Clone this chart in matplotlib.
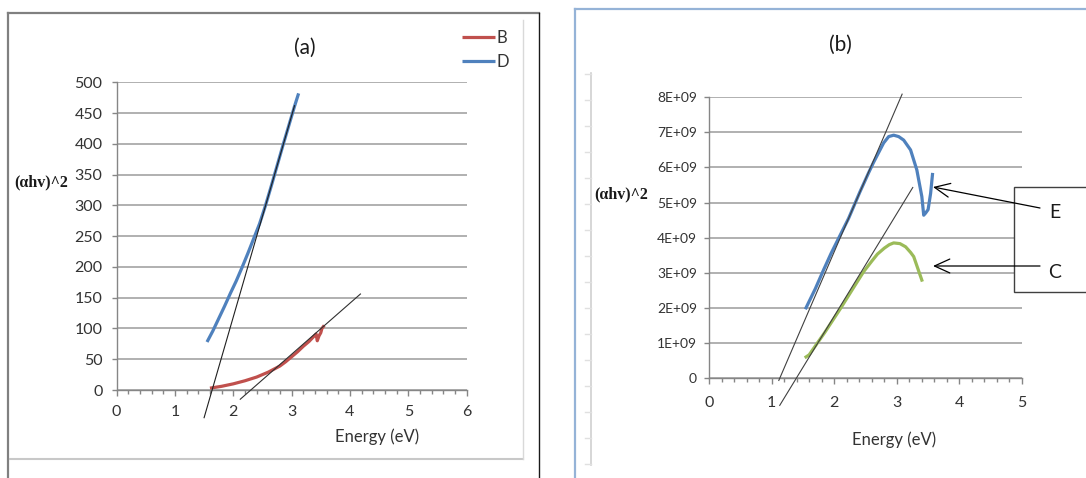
import matplotlib
matplotlib.use("Agg")
import matplotlib.pyplot as plt
from matplotlib.ticker import MultipleLocator
from matplotlib.patches import Rectangle
from matplotlib.lines import Line2D

plt.rcParams['font.family'] = ['Lato', 'DejaVu Sans']

# ---------------- data ----------------
# panel (a)
D_x = [1.55, 1.65, 1.75, 1.85, 1.95, 2.05, 2.15, 2.25, 2.35, 2.45, 2.55, 2.65, 2.75, 2.85, 2.95, 3.05, 3.12]
D_y = [78, 96, 116, 136, 157, 177, 199, 222, 246, 270, 299, 331, 364, 397, 429, 461, 482]
B_x = [1.60, 1.80, 2.00, 2.20, 2.40, 2.60, 2.80, 2.90, 3.00, 3.10, 3.20, 3.30, 3.38, 3.42, 3.44, 3.47, 3.50, 3.52, 3.56]
B_y = [3, 6, 10, 15, 21, 29, 39, 46, 54, 62, 71, 79, 87, 91, 80, 88, 93, 100, 105]
tanD_x = [1.50, 3.05]
tanD_y = [-45, 462]
tanB_x = [2.12, 4.18]
tanB_y = [-15, 156]

# panel (b)
E_x = [1.55, 1.70, 1.83, 1.95, 2.07, 2.23, 2.41, 2.55, 2.63, 2.79, 2.87, 2.95, 3.03, 3.11, 3.22, 3.32, 3.40, 3.43, 3.46, 3.50, 3.54, 3.57]
E_y = [2.00, 2.55, 3.08, 3.55, 3.98, 4.55, 5.30, 5.85, 6.15, 6.70, 6.88, 6.92, 6.88, 6.78, 6.50, 5.93, 5.17, 4.64, 4.70, 4.80, 5.26, 5.80]
C_x = [1.55, 1.60, 1.85, 2.10, 2.30, 2.47, 2.60, 2.69, 2.80, 2.88, 2.95, 3.05, 3.14, 3.22, 3.27, 3.33, 3.40]
C_y = [0.60, 0.66, 1.30, 1.98, 2.55, 3.03, 3.33, 3.53, 3.70, 3.80, 3.85, 3.83, 3.74, 3.58, 3.46, 3.15, 2.79]
tanE_x = [1.115, 3.085]
tanE_y = [-0.07, 8.09]
tanC_x = [1.13, 3.255]
tanC_y = [-0.78, 5.43]
SCALE_B = 1e9

xticks_a = [0, 1, 2, 3, 4, 5, 6]
yticks_a = [0, 50, 100, 150, 200, 250, 300, 350, 400, 450, 500]
xticks_b = [0, 1, 2, 3, 4, 5]
yticks_b = [0, 1e9, 2e9, 3e9, 4e9, 5e9, 6e9, 7e9, 8e9]
ytick_labels_b = ['0', '1E+09', '2E+09', '3E+09', '4E+09', '5E+09', '6E+09', '7E+09', '8E+09']

RED = '#C0504D'
BLUE = '#4F81BD'
GREEN = '#9BBB59'
GRID = '#A3A3A3'
AXC = '#868686'
TXT = '#333333'

W, H = 1086, 478
fig = plt.figure(figsize=(W / 100, H / 100), dpi=100)


def px(x, y):
    return x / W, 1 - y / H


def style(ax, xt, yt, xpad, ypad, xfs, yfs):
    for s in ['top', 'right']:
        ax.spines[s].set_visible(False)
    for s in ['left', 'bottom']:
        ax.spines[s].set_color(AXC)
        ax.spines[s].set_linewidth(1.0)
    ax.set_xticks(xt)
    ax.set_yticks(yt)
    ax.xaxis.set_minor_locator(MultipleLocator(0.2))
    ax.tick_params(axis='x', which='major', direction='out', length=4.3, width=1, color=AXC,
                   labelsize=xfs, labelcolor=TXT, pad=xpad)
    ax.tick_params(axis='x', which='minor', direction='out', length=2.9, width=1, color=AXC)
    ax.tick_params(axis='y', which='major', direction='out', length=3.6, width=1, color=AXC,
                   labelsize=yfs, labelcolor=TXT, pad=ypad)
    ax.yaxis.grid(True, color=GRID, linewidth=1.2)
    ax.set_axisbelow(True)


# ---------------- panel (a) ----------------
axa = fig.add_axes([116.6 / W, (H - 390) / H, 350 / W, 307.7 / H])
axa.set_xlim(0, 6)
axa.set_ylim(0, 500)
style(axa, xticks_a, yticks_a, 6.5, 6.5, 11.5, 11.5)
lB, = axa.plot(B_x, B_y, color=RED, lw=2.3, solid_capstyle='butt', label='B', zorder=3)
lD, = axa.plot(D_x, D_y, color=BLUE, lw=2.3, solid_capstyle='butt', label='D', zorder=3)
axa.plot(tanD_x, tanD_y, color='#202020', lw=0.8, clip_on=False, zorder=4)
axa.plot(tanB_x, tanB_y, color='#303030', lw=0.8, clip_on=False, zorder=4)
leg = fig.legend(handles=[lB, lD], labels=['B', 'D'], loc='upper left',
                 bbox_to_anchor=px(462, 30), frameon=False, fontsize=12,
                 handlelength=1.95, handletextpad=0.1, labelspacing=0.5,
                 borderpad=0, borderaxespad=0)
for t in leg.get_texts():
    t.set_color(TXT)

# ---------------- panel (b) ----------------
axb = fig.add_axes([709 / W, (H - 378) / H, 313 / W, 280.7 / H])
axb.set_xlim(0, 5)
axb.set_ylim(0, 8e9)
style(axb, xticks_b, yticks_b, 8.5, 5.0, 11.5, 10)
axb.set_yticklabels(ytick_labels_b)
axb.plot(E_x, [v * SCALE_B for v in E_y], color=BLUE, lw=2.3, zorder=3)
axb.plot(C_x, [v * SCALE_B for v in C_y], color=GREEN, lw=2.3, zorder=3)
axb.plot(tanE_x, [v * SCALE_B for v in tanE_y], color='#404040', lw=0.8, clip_on=False, zorder=4)
axb.plot(tanC_x, [v * SCALE_B for v in tanC_y], color='#404040', lw=0.8, clip_on=False, zorder=4)

# ---------------- overlay: frames, texts, annotation box ----------------
ov = fig.add_axes([0, 0, 1, 1], zorder=10)
ov.set_xlim(0, W)
ov.set_ylim(H, 0)
ov.axis('off')
ov.patch.set_alpha(0)

# panel (a) frame
ov.add_line(Line2D([8, 539], [12.5, 12.5], color='#808080', lw=1.6))
ov.add_line(Line2D([8, 8], [12.5, 478], color='#808080', lw=1.6))
ov.add_line(Line2D([539, 539], [12.5, 478], color='#1a1a1a', lw=1.0))
ov.add_line(Line2D([10, 523], [458.5, 458.5], color='#C8C8C8', lw=1.5))
ov.add_line(Line2D([523, 523], [20, 458.5], color='#D9D9D9', lw=1.0))
# panel (b) frame
ov.add_line(Line2D([575, W], [8.5, 8.5], color='#95B3D7', lw=1.6))
ov.add_line(Line2D([575, 575], [8.5, 478], color='#95B3D7', lw=1.6))
ov.add_line(Line2D([591, 591], [73, 465], color='#D0D0D0', lw=1.2))
for yy in range(74, 466, 26):
    ov.add_line(Line2D([585, 591], [yy, yy], color='#E0E0E0', lw=1.0))

# annotation box
ov.add_patch(Rectangle((1014, 187), 80, 105, facecolor='white', edgecolor='#404040', lw=1.0))
ov.text(1055, 212, 'E', fontsize=14, color='#1a1a1a', ha='center', va='center')
ov.text(1055, 272, 'C', fontsize=14, color='#1a1a1a', ha='center', va='center')
arrow = dict(arrowstyle='->,head_length=1.1,head_width=0.5', color='black', lw=0.9,
             shrinkA=0, shrinkB=0)
ov.annotate('', xy=(933, 187), xytext=(1040, 208), xycoords='data', arrowprops=arrow)
ov.annotate('', xy=(933, 266), xytext=(1040, 266), xycoords='data', arrowprops=arrow)

# titles and labels
ov.text(305, 48, '(a)', fontsize=15, color='#1a1a1a', ha='center', va='center')
ov.text(840, 45, '(b)', fontsize=15, color='#1a1a1a', ha='center', va='center')
ov.text(377, 437, 'Energy (eV)', fontsize=12, color=TXT, ha='center', va='center')
ov.text(894, 440, 'Energy (eV)', fontsize=12, color=TXT, ha='center', va='center')
ylab = dict(fontsize=11.5, fontweight='bold', color='#1a1a1a', ha='center', va='center',
            family=['Liberation Serif', 'DejaVu Serif'])
ov.text(41, 182, '(\u03b1hv)^2', **ylab)
ov.text(621, 194, '(\u03b1hv)^2', **ylab)

fig.savefig('out.png', dpi=100)
